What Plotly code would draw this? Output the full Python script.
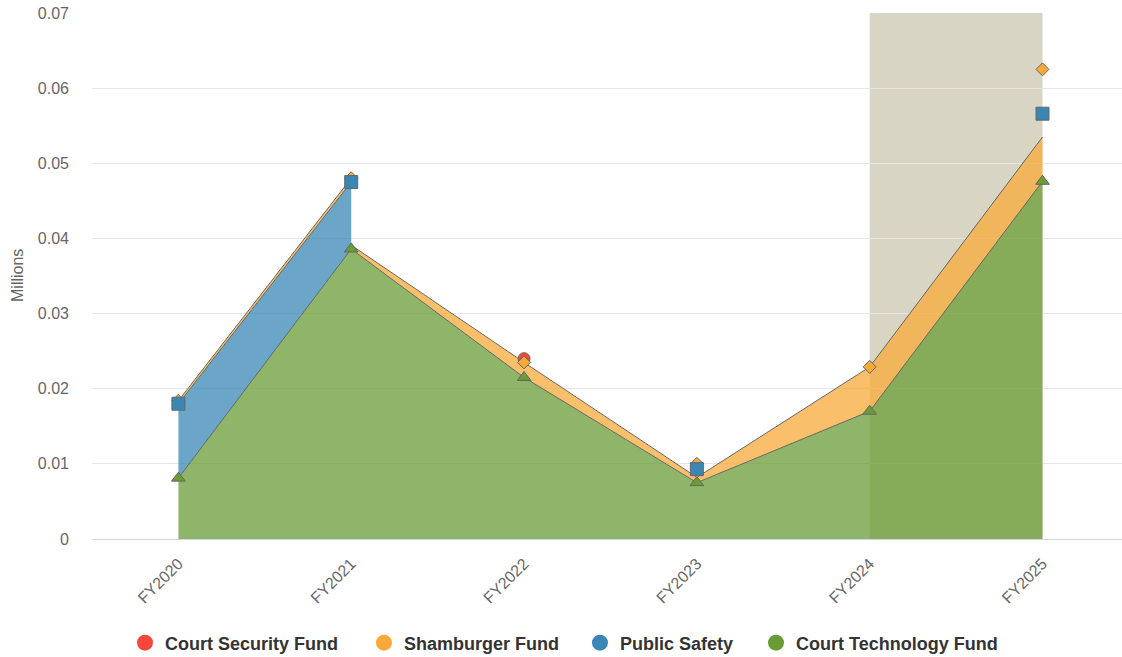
import plotly.graph_objects as go

categories = ["FY2020", "FY2021", "FY2022", "FY2023", "FY2024", "FY2025"]
court_technology = [0.0081, 0.0386, 0.0215, 0.0075, 0.0170, 0.0476]
public_safety = [0.0099, 0.0089, None, 0.0018, None, 0.0090]
shamburger = [0.0004, 0.0005, 0.0020, 0.0007, 0.0059, 0.0059]
court_security = [None, None, 0.0005, None, None, None]

# stack order bottom -> top
series = [
    ("Court Technology Fund", court_technology, "#6a9c36", "triangle-up", 12),
    ("Public Safety", public_safety, "#3a87b5", "square", 13),
    ("Shamburger Fund", shamburger, "#f8a93a", "diamond", 10),
    ("Court Security Fund", court_security, "#f5473a", "circle", 12),
]

def rgba(hexc, a):
    h = hexc.lstrip("#")
    return "rgba(%d,%d,%d,%g)" % (int(h[0:2], 16), int(h[2:4], 16), int(h[4:6], 16), a)

n = len(categories)
idx = list(range(n))

# Area tops with cliffs: within a segment a series only counts when defined at both ends
fill_paths = []
line_paths = []
for k in range(len(series)):
    fx, fy, lx, ly = [], [], [], []
    for i in range(n - 1):
        tl = tr = 0.0
        for j in range(k + 1):
            v = series[j][1]
            if v[i] is not None and v[i + 1] is not None:
                tl += v[i]
                tr += v[i + 1]
        fx += [i, i + 1]
        fy += [tl, tr]
        own = series[k][1]
        if own[i] is not None and own[i + 1] is not None:
            lx += [i, i + 1, None]
            ly += [tl, tr, None]
    fill_paths.append((fx, fy))
    line_paths.append((lx, ly))

fig = go.Figure()

# fills
for k, (name, vals, col, sym, sz) in enumerate(series):
    fx, fy = fill_paths[k]
    fig.add_trace(go.Scatter(
        x=fx, y=fy, mode="none",
        fill="tozeroy" if k == 0 else "tonexty",
        fillcolor=rgba(col, 0.75), showlegend=False, hoverinfo="skip"))

# lines
for k in range(len(series)):
    lx, ly = line_paths[k]
    if lx:
        fig.add_trace(go.Scatter(x=lx, y=ly, mode="lines",
                                 line=dict(color="#666666", width=1),
                                 showlegend=False, hoverinfo="skip"))

# markers at full stacked values (top of stack drawn first, as in the source)
for k in reversed(range(len(series))):
    name, vals, col, sym, sz = series[k]
    mx, my = [], []
    for i in range(n):
        if vals[i] is None:
            continue
        s = sum(series[j][1][i] for j in range(k + 1) if series[j][1][i] is not None)
        mx.append(i)
        my.append(s)
    fig.add_trace(go.Scatter(x=mx, y=my, mode="markers",
                             marker=dict(symbol=sym, size=sz, color=col,
                                         line=dict(color="#666666", width=1)),
                             showlegend=False, name=name))

# legend entries, one legend each so spacing can follow the source
legend_names = ["legend", "legend2", "legend3", "legend4"]
legend_x = [0.1114, 0.3244, 0.5169, 0.6738]
for li, k in enumerate(reversed(range(len(series)))):
    name, vals, col, sym, sz = series[k]
    fig.add_trace(go.Scatter(x=[None], y=[None], mode="markers", name=name,
                             legend=legend_names[li],
                             marker=dict(symbol="circle", size=16, color=col)))

fig.add_shape(type="rect", xref="x", yref="paper", x0=4, x1=5, y0=0, y1=1,
              fillcolor="#d9d5c4", line=dict(width=0), layer="below")

fig.add_annotation(text="Millions", xref="paper", yref="paper",
                   x=(17 - 92) / 1030, y=0.5, textangle=-90, showarrow=False,
                   xanchor="center", yanchor="middle",
                   font=dict(size=16, color="#666666"))

leg_common = dict(orientation="h", xanchor="left", xref="container", yref="container",
                  y=1 - 643 / 657, yanchor="middle",
                  font=dict(size=18, color="#333333", weight="bold"),
                  bgcolor="rgba(0,0,0,0)", traceorder="normal")

fig.update_layout(
    width=1122, height=657,
    margin=dict(l=92, r=0, t=13, b=118, autoexpand=False),
    paper_bgcolor="white", plot_bgcolor="white",
    font=dict(family="Liberation Sans, Arial, sans-serif", color="#666666", size=16),
    xaxis=dict(range=[-0.5, 5.46], tickmode="array", tickvals=idx, ticktext=categories,
               tickangle=-45, showgrid=False, zeroline=False, showline=True,
               linecolor="#ccd6eb", linewidth=1, ticks="", ticklabelstandoff=8,
               automargin=False, tickfont=dict(size=16, color="#666666")),
    yaxis=dict(range=[0, 0.07], dtick=0.01, showgrid=True, gridcolor="#e6e6e6",
               gridwidth=1, zeroline=False, showline=False, ticks="",
               ticklabelstandoff=22, automargin=False, ticklabeloverflow="allow",
               tickfont=dict(size=16, color="#666666")),
    legend=dict(x=legend_x[0], **leg_common),
    legend2=dict(x=legend_x[1], **leg_common),
    legend3=dict(x=legend_x[2], **leg_common),
    legend4=dict(x=legend_x[3], **leg_common),
    showlegend=True,
)

fig.write_html("out.html", config={"displayModeBar": False},
               post_script="document.body.style.margin='0';")
